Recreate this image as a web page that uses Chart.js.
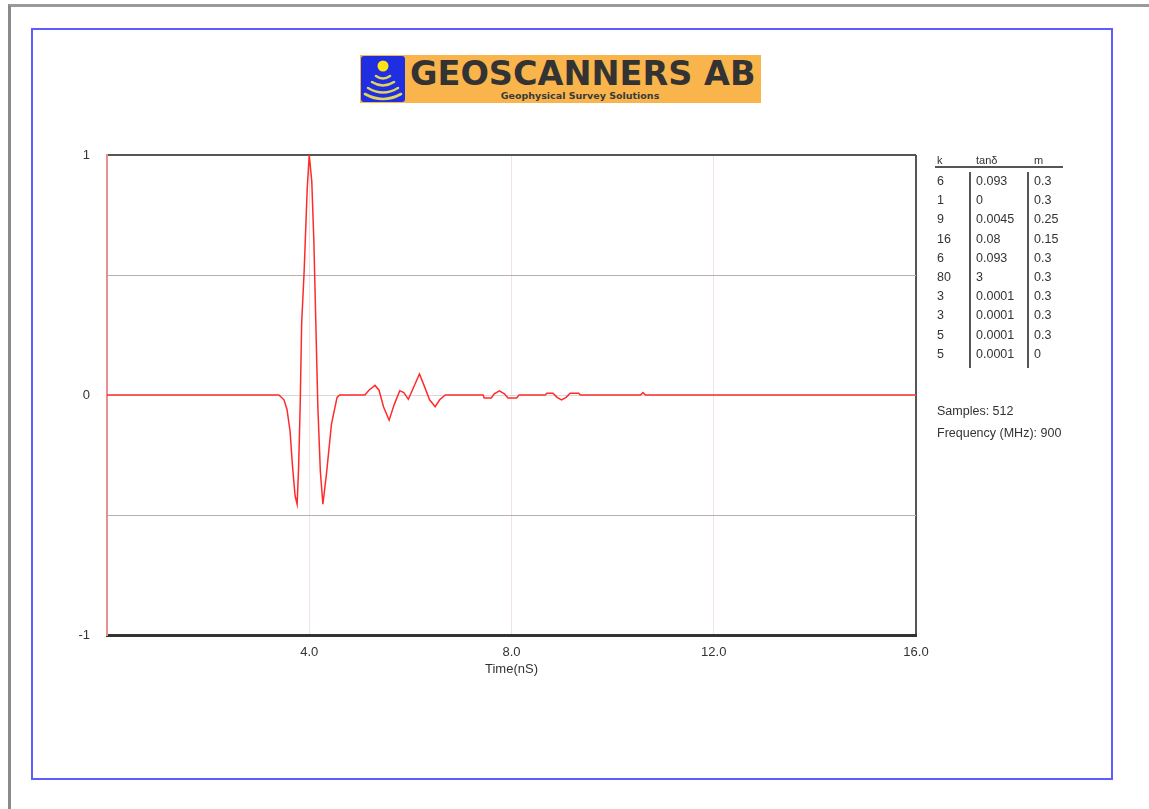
<!DOCTYPE html>
<html>
<head>
<meta charset="utf-8">
<script src="https://cdn.jsdelivr.net/npm/chart.js@4/dist/chart.umd.min.js"></script>
<style>
  body { margin: 0; width: 1149px; height: 809px; background: #fff; overflow: hidden; position: relative; font-family: "Liberation Sans", Arial, sans-serif; color: #333; }
  .page { position: absolute; left: 8px; top: 4px; width: 1300px; height: 900px; border-left: 3px solid #8a8a8a; border-top: 3px solid #9a9a9a; }
  .frame { position: absolute; left: 31px; top: 28px; width: 1078px; height: 748px; border: 2px solid #5c5cff; }
  .logo { position: absolute; left: 360px; top: 55px; width: 401px; height: 48px; background: #f9b54c; }
  .logo svg { position: absolute; left: 1px; top: 1px; }
  .logo .name { position: absolute; left: 50px; top: -1px; font: bold 33.5px "DejaVu Sans", sans-serif; color: #333; white-space: nowrap; }
  .logo .sub { position: absolute; left: 0; width: 440px; top: 35px; text-align: center; font: bold 9.5px "DejaVu Sans", sans-serif; color: #3a3a3a; white-space: nowrap; }
  #chartBox { position: absolute; left: 0; top: 0; }
  .cell { position: absolute; font-size: 12.5px; line-height: 19.2px; white-space: nowrap; color: #333; }
  .hdr { position: absolute; font-size: 11px; line-height: 12px; white-space: nowrap; color: #333; }
  .rule { position: absolute; background: #555; }
</style>
</head>
<body>
<div class="page"></div>
<div class="frame"></div>
<div class="logo">
  <svg width="44" height="46" viewBox="0 0 44 46">
    <rect x="0" y="0" width="44" height="46" rx="3" fill="#1f2ee0"/>
    <circle cx="22" cy="10" r="5.5" fill="#ffe21a"/>
    <g fill="none" stroke="#e2d35a" stroke-width="2.6" stroke-linecap="round">
      <path d="M15 20 Q22 25 29 20"/>
      <path d="M11 26 Q22 33 33 26"/>
      <path d="M7 32 Q22 41 37 32"/>
      <path d="M4 38 Q22 48 40 38"/>
    </g>
  </svg>
  <div class="name">GEOSCANNERS AB</div>
  <div class="sub">Geophysical Survey Solutions</div>
</div>
<div id="chartBox"><canvas id="wave" width="1149" height="809"></canvas></div>
<div id="layers"></div>
<script>
// trace: time (ns) and normalised amplitude
const timeNs = [
  0, 3.40, 3.50, 3.56, 3.62, 3.67, 3.72, 3.76, 3.79, 3.82, 3.85, 3.90, 3.96, 4.00,
  4.05, 4.09, 4.13, 4.17, 4.22, 4.27, 4.34, 4.44, 4.55, 4.60,
  5.10, 5.18, 5.30, 5.38, 5.47, 5.58, 5.68, 5.79, 5.87, 5.96, 6.06, 6.18, 6.27, 6.38, 6.49, 6.58, 6.69,
  7.44, 7.46, 7.60, 7.66, 7.76, 7.86, 7.93, 8.10, 8.15,
  8.66, 8.70, 8.82, 8.90, 8.99, 9.08, 9.16, 9.33, 9.36,
  10.55, 10.60, 10.65, 16
];
const amplitude = [
  0, 0, -0.02, -0.06, -0.15, -0.30, -0.42, -0.455, -0.30, -0.05, 0.30, 0.52, 0.86, 1.0,
  0.89, 0.65, 0.30, -0.05, -0.32, -0.455, -0.33, -0.12, -0.01, 0,
  0, 0.02, 0.04, 0.02, -0.05, -0.105, -0.04, 0.018, 0.01, -0.018, 0.03, 0.088, 0.04, -0.02, -0.049, -0.02, 0,
  0, -0.012, -0.012, 0.005, 0.017, 0.005, -0.012, -0.012, 0,
  0, 0.007, 0.007, -0.01, -0.02, -0.01, 0.007, 0.007, 0,
  0, 0.01, 0, 0
];
const yTickLabels = [-1, 0, 1];

// layer table
const kValues = ['6', '1', '9', '16', '6', '80', '3', '3', '5', '5'];
const tanDelta = ['0.093', '0', '0.0045', '0.08', '0.093', '3', '0.0001', '0.0001', '0.0001', '0.0001'];
const mValues = ['0.3', '0.3', '0.25', '0.15', '0.3', '0.3', '0.3', '0.3', '0.3', '0'];
const samples = 512;
const frequencyMHz = 900;

const layers = document.getElementById('layers');
const put = (cls, text, x, y, extra) => {
  const d = document.createElement('div');
  d.className = cls;
  d.textContent = text;
  d.style.left = x + 'px';
  d.style.top = y + 'px';
  if (extra) Object.assign(d.style, extra);
  layers.appendChild(d);
  return d;
};

put('hdr', 'k', 937, 154);
put('hdr', 'tanδ', 976, 154);
put('hdr', 'm', 1034, 154);
put('rule', '', 935, 166, { width: '128px', height: '1.5px' });
put('rule', '', 969, 172, { width: '2px', height: '196px' });
put('rule', '', 1027, 172, { width: '2px', height: '196px' });
kValues.forEach((k, i) => {
  const top = 172 + i * 19.2;
  put('cell', k, 937, top);
  put('cell', tanDelta[i], 976, top);
  put('cell', mValues[i], 1034, top);
});
put('cell', 'Samples: ' + samples, 937, 402);
put('cell', 'Frequency (MHz): ' + frequencyMHz, 937, 424);

const tickFont = { family: '"Liberation Sans", Arial, sans-serif', size: 13 };

new Chart(document.getElementById('wave'), {
  type: 'line',
  data: {
    datasets: [{
      data: timeNs.map((t, i) => ({ x: t, y: amplitude[i] })),
      borderColor: '#ff2b2b',
      borderWidth: 1.5,
      pointRadius: 0,
      tension: 0,
      clip: false
    }]
  },
  options: {
    responsive: false,
    animation: false,
    devicePixelRatio: 1,
    layout: { padding: { left: 57, top: 155, right: 233, bottom: 124 } },
    plugins: { legend: { display: false }, tooltip: { enabled: false } },
    scales: {
      x: {
        type: 'linear',
        min: 0,
        max: 16,
        afterFit: (scale) => { scale.height = 50; },
        ticks: {
          stepSize: 4,
          padding: 10,
          maxRotation: 0,
          color: '#333',
          font: tickFont,
          callback: (v) => (v === 0 ? '' : v.toFixed(1))
        },
        grid: {
          drawTicks: false,
          color: (ctx) => {
            const v = ctx.tick.value;
            if (v === 16) return '#555';
            if (v === 0) return 'rgba(0,0,0,0)';
            return '#f2e2e2';
          },
          lineWidth: (ctx) => (ctx.tick.value === 16 ? 2 : 1)
        },
        border: { color: '#333', width: 3 },
        title: {
          display: true,
          text: 'Time(nS)',
          color: '#333',
          font: tickFont,
          padding: { top: 0, bottom: 8 }
        }
      },
      y: {
        min: -1,
        max: 1,
        afterFit: (scale) => { scale.width = 50; },
        ticks: {
          stepSize: 0.5,
          padding: 17,
          color: '#333',
          font: tickFont,
          callback: (v) => (yTickLabels.includes(v) ? String(v) : '')
        },
        grid: {
          drawTicks: false,
          color: (ctx) => {
            const v = ctx.tick.value;
            if (v === 1) return '#555';
            if (v === -1) return 'rgba(0,0,0,0)';
            if (v === 0) return '#d8d8d8';
            return '#b8b0b0';
          },
          lineWidth: (ctx) => (ctx.tick.value === 1 ? 2 : 1)
        },
        border: { color: '#e89090', width: 2 }
      }
    }
  }
});
</script>
</body>
</html>
